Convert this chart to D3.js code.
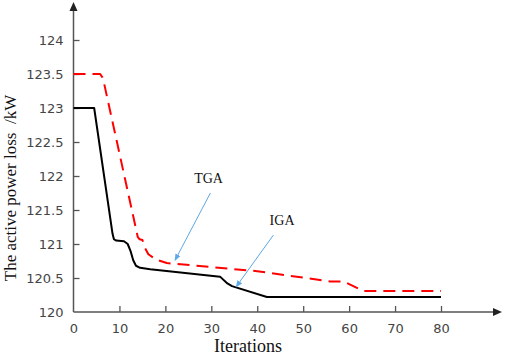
<!DOCTYPE html>
<html>
<head>
<meta charset="utf-8">
<script src="https://cdn.jsdelivr.net/npm/d3@7"></script>
<style>
  body { margin: 0; background: #fff; }
</style>
</head>
<body>
<svg id="chart" width="505" height="357"></svg>
<script>
// data
const igaIter = [0, 4.5, 8.5, 8.8, 9.3, 11, 11.8, 12.4, 13, 13.6, 14.5, 16.7, 31.9, 33.5, 34.5, 42.1, 80];
const igaLoss = [123.0, 123.0, 121.15, 121.07, 121.05, 121.04, 121.0, 120.9, 120.76, 120.68, 120.65, 120.63, 120.52, 120.42, 120.38, 120.22, 120.22];

const tgaIter = [0, 5.8, 6.3, 6.6, 14.0, 14.4, 15.0, 15.5, 16.3, 18, 20.3, 40, 55.9, 58.8, 63.1, 80];
const tgaLoss = [123.5, 123.5, 123.45, 123.38, 121.1, 121.07, 121.06, 120.95, 120.85, 120.77, 120.72, 120.6, 120.45, 120.45, 120.31, 120.31];

const xTicks = [0, 10, 20, 30, 40, 50, 60, 70, 80];
const yTicks = [120, 120.5, 121, 121.5, 122, 122.5, 123, 123.5, 124];

// annotations: label position, arrow start, arrow end (data units)
const notes = [
  { text: "TGA", x: 29.4, y: 121.9, from: [29.8, 121.75], to: [22.1, 120.76] },
  { text: "IGA", x: 45.4, y: 121.28, from: [43.5, 121.13], to: [35.4, 120.37] }
];

const svg = d3.select("#chart");

const x = d3.scaleLinear().domain([0, 80]).range([73.5, 441]);
const y = d3.scaleLinear().domain([120, 124]).range([312, 40]);

const axisColor = "#555";
const tickFont = "'DejaVu Sans', sans-serif";

svg.append("defs").append("marker")
  .attr("id", "blueHead")
  .attr("viewBox", "0 0 10 10")
  .attr("refX", 9).attr("refY", 5)
  .attr("markerWidth", 7).attr("markerHeight", 7)
  .attr("orient", "auto")
  .append("path")
  .attr("d", "M0,1 L10,5 L0,9 Z")
  .attr("fill", "#5da8e6");

// x axis, ticks pointing up
const xAxis = d3.axisBottom(x).tickValues(xTicks).tickSizeInner(-6).tickSizeOuter(0).tickPadding(12);
const gx = svg.append("g").attr("transform", `translate(0,${y(120)})`).call(xAxis);
gx.select(".domain").remove();
gx.selectAll("line").attr("stroke", axisColor).attr("stroke-width", 1.3);
gx.selectAll("text").attr("font-family", tickFont).attr("font-size", 13).attr("fill", "#444");
gx.selectAll(".tick").filter(d => d === 0).select("line").remove();

// y axis, ticks pointing right
const yAxis = d3.axisLeft(y).tickValues(yTicks).tickSizeInner(-6).tickSizeOuter(0).tickPadding(10)
  .tickFormat(d => d3.format("")(d));
const gy = svg.append("g").attr("transform", `translate(${x(0)},0)`).call(yAxis);
gy.select(".domain").remove();
gy.selectAll("line").attr("stroke", axisColor).attr("stroke-width", 1.3);
gy.selectAll("text").attr("font-family", tickFont).attr("font-size", 13).attr("fill", "#444");
gy.selectAll(".tick").filter(d => d === 120).select("line").remove();

// axis lines with arrow heads
svg.append("line").attr("x1", x(0)).attr("y1", y(120)).attr("x2", 496).attr("y2", y(120))
  .attr("stroke", axisColor).attr("stroke-width", 1.5);
svg.append("path").attr("d", `M502,${y(120)} L493,${y(120) - 4} L493,${y(120) + 4} Z`).attr("fill", "#222");
svg.append("line").attr("x1", x(0)).attr("y1", y(120)).attr("x2", x(0)).attr("y2", 8)
  .attr("stroke", axisColor).attr("stroke-width", 1.5);
svg.append("path").attr("d", `M${x(0)},2 L${x(0) - 4},11 L${x(0) + 4},11 Z`).attr("fill", "#222");

// lines
const line = d3.line().x(d => x(d[0])).y(d => y(d[1]));

svg.append("path")
  .datum(tgaIter.map((v, i) => [v, tgaLoss[i]]))
  .attr("d", line)
  .attr("fill", "none")
  .attr("stroke", "#ff0000")
  .attr("stroke-width", 2)
  .attr("stroke-linejoin", "round")
  .attr("stroke-dasharray", "12,7");

svg.append("path")
  .datum(igaIter.map((v, i) => [v, igaLoss[i]]))
  .attr("d", line)
  .attr("fill", "none")
  .attr("stroke", "#000")
  .attr("stroke-linejoin", "round")
  .attr("stroke-width", 2);

// annotations
notes.forEach(n => {
  svg.append("text")
    .attr("x", x(n.x)).attr("y", y(n.y))
    .attr("text-anchor", "middle")
    .attr("font-family", "'Liberation Serif', serif")
    .attr("font-size", 14)
    .attr("fill", "#111")
    .text(n.text);
  svg.append("line")
    .attr("x1", x(n.from[0])).attr("y1", y(n.from[1]))
    .attr("x2", x(n.to[0])).attr("y2", y(n.to[1]))
    .attr("stroke", "#5da8e6").attr("stroke-width", 1)
    .attr("marker-end", "url(#blueHead)");
});

// axis titles
svg.append("text")
  .attr("x", 248).attr("y", 352)
  .attr("text-anchor", "middle")
  .attr("font-family", "'Liberation Serif', serif")
  .attr("font-size", 18)
  .attr("fill", "#111")
  .text("Iterations");

svg.append("text")
  .attr("transform", "translate(16,188) rotate(-90)")
  .attr("text-anchor", "middle")
  .attr("font-family", "'Liberation Serif', serif")
  .attr("font-size", 17)
  .attr("fill", "#111")
  .attr("xml:space", "preserve")
  .text("The active power loss  /kW");
</script>
</body>
</html>
